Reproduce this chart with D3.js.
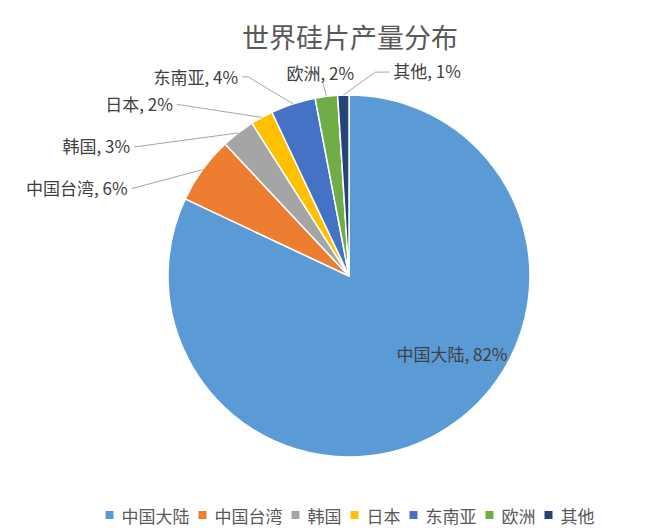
<!DOCTYPE html>
<html><head><meta charset="utf-8">
<script src="https://cdn.jsdelivr.net/npm/d3@7/dist/d3.min.js"></script>
<style>
html,body{margin:0;padding:0;background:#fff;}
svg{display:block;font-family:"Noto Sans CJK SC","Noto Sans",sans-serif;}
</style></head>
<body><svg id="c" width="654" height="531"></svg>
<script>
const title = "世界硅片产量分布";
const categories = ["中国大陆","中国台湾","韩国","日本","东南亚","欧洲","其他"];
const values = [82, 6, 3, 2, 4, 2, 1];
const colors = ["#5B9BD5","#ED7D31","#A5A5A5","#FFC000","#4472C4","#70AD47","#264478"];
// label layout: offset of label anchor from the slice's outer-arc midpoint
const labelLayout = [
  {inside:true, x:452, y:353},
  {dx:-75, dy:18, anchor:"end"},
  {dx:-108, dy:13, anchor:"end"},
  {dx:-89, dy:-14, anchor:"end"},
  {dx:-55, dy:-27, anchor:"end", elbow:true},
  {dx:-6, dy:-24, anchor:"middle"},
  {dx:50, dy:-25, anchor:"start", elbow:true}
];

const svg = d3.select("#c");
const W = 654, H = 531;
const cx = 349, cy = 276, R = 181;

svg.append("text").attr("x", 350).attr("y", 36)
  .attr("text-anchor","middle").attr("dominant-baseline","central")
  .attr("font-size", 27).attr("fill","#595959").text(title);

const data = categories.map((c,i)=>({name:c, value:values[i], color:colors[i], lay:labelLayout[i]}));
const pie = d3.pie().value(d=>d.value).sort(null);
const arcs = pie(data);
const arc = d3.arc().innerRadius(0).outerRadius(R);
const g = svg.append("g").attr("transform",`translate(${cx},${cy})`);
g.selectAll("path").data(arcs).join("path")
  .attr("d", arc).attr("fill", d=>d.data.color)
  .attr("stroke","#fff").attr("stroke-width",1.5);

const fs = 17;
arcs.forEach(a=>{
  const L = a.data.lay;
  const txt = `${a.data.name}, ${a.data.value}%`;
  if (L.inside) {
    svg.append("text").attr("x", L.x).attr("y", L.y)
      .attr("text-anchor","middle").attr("dominant-baseline","central")
      .attr("font-size", fs).attr("fill","#404040").text(txt);
    return;
  }
  const mid = (a.startAngle + a.endAngle)/2;
  const px = cx + Math.sin(mid)*R, py = cy - Math.cos(mid)*R;
  const lx = px + L.dx, ly = py + L.dy;
  const t = svg.append("text").attr("x", lx).attr("y", ly)
    .attr("text-anchor", L.anchor).attr("dominant-baseline","central")
    .attr("font-size", fs).attr("fill","#404040").text(txt);
  let pts;
  if (L.anchor === "end") {
    const sx = lx + 4;
    pts = L.elbow ? [[sx, ly], [sx+6, ly], [px, py]] : [[sx, ly+1], [px, py]];
  } else if (L.anchor === "start") {
    const sx = lx - 4;
    pts = L.elbow ? [[sx, ly+2], [sx-14, ly+2], [px, py]] : [[sx, ly], [px, py]];
  } else {
    pts = [[lx+3, ly+11], [px, py]];
  }
  svg.append("path").attr("d", d3.line()(pts))
    .attr("fill","none").attr("stroke","#A6A6A6").attr("stroke-width",1);
});

// legend
const lg = svg.append("g");
const sq = 8, gapSq = 8, gapItem = 9;
let x = 0;
const items = [];
data.forEach(d=>{
  const it = lg.append("g");
  it.append("rect").attr("x", x).attr("y", -sq/2).attr("width", sq).attr("height", sq).attr("fill", d.color);
  const tt = it.append("text").attr("x", x+sq+gapSq).attr("y", 0)
    .attr("dominant-baseline","central").attr("font-size", fs).attr("fill","#595959").text(d.name);
  const w = tt.node().getComputedTextLength();
  x += sq + gapSq + w + gapItem;
});
const total = x - gapItem;
lg.attr("transform", `translate(${350 - total/2},515)`);
</script></body></html>
